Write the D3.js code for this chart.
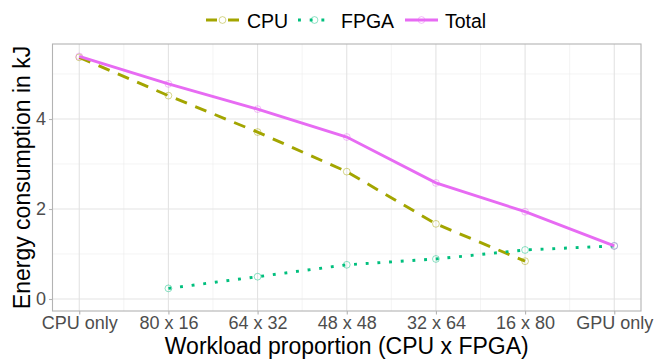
<!DOCTYPE html>
<html>
<head>
<meta charset="utf-8">
<script src="https://cdn.jsdelivr.net/npm/d3@7"></script>
<style>
  html, body { margin: 0; padding: 0; background: #ffffff; }
  svg { display: block; font-family: "Liberation Sans", Arial, sans-serif; }
</style>
</head>
<body>
<svg id="chart" width="654" height="359"></svg>
<script>
// ---- data ----
const categories = ["CPU only", "80 x 16", "64 x 32", "48 x 48", "32 x 64", "16 x 80", "GPU only"];
const cpuValues   = [5.37, 4.52, 3.71, 2.83, 1.67, 0.84, null];
const fpgaValues  = [null, 0.236, 0.496, 0.76, 0.89, 1.09, 1.18];
const totalValues = [5.39, 4.78, 4.22, 3.60, 2.58, 1.94, 1.18];
const yTicks = [0, 2, 4];
const yMinorTicks = [1, 3, 5];
const seriesNames = ["CPU", "FPGA", "Total"];

const colors = { CPU: "#A3A500", FPGA: "#00BF7D", Total: "#E76BF3" };
const dashes = { CPU: "12,9", FPGA: "2.9,8.8", Total: null };

const series = [
  { name: "CPU", values: cpuValues },
  { name: "FPGA", values: fpgaValues },
  { name: "Total", values: totalValues }
];

const svg = d3.select("#chart");
const panel = { left: 52.5, right: 641, top: 44, bottom: 311 };

const x = d3.scaleLinear().domain([-0.3, categories.length - 1 + 0.3]).range([panel.left, panel.right]);
const y = d3.scaleLinear().domain([-0.2667, 5.667]).range([panel.bottom, panel.top]);

// grid
const grid = svg.append("g");
const xMinor = d3.range(0, categories.length - 1).map(i => i + 0.5);
grid.selectAll(".ymin").data(yMinorTicks).join("line")
  .attr("x1", panel.left).attr("x2", panel.right)
  .attr("y1", d => y(d)).attr("y2", d => y(d))
  .attr("stroke", "#EDEDED").attr("stroke-width", 0.6);
grid.selectAll(".xmin").data(xMinor).join("line")
  .attr("y1", panel.top).attr("y2", panel.bottom)
  .attr("x1", d => x(d)).attr("x2", d => x(d))
  .attr("stroke", "#EDEDED").attr("stroke-width", 0.6);
grid.selectAll(".ymaj").data(yTicks).join("line")
  .attr("x1", panel.left).attr("x2", panel.right)
  .attr("y1", d => y(d)).attr("y2", d => y(d))
  .attr("stroke", "#E3E3E3").attr("stroke-width", 1.1);
grid.selectAll(".xmaj").data(categories.map((c, i) => i)).join("line")
  .attr("y1", panel.top).attr("y2", panel.bottom)
  .attr("x1", d => x(d)).attr("x2", d => x(d))
  .attr("stroke", "#E3E3E3").attr("stroke-width", 1.1);

// axes
const xAxis = d3.axisBottom(x)
  .tickValues(categories.map((c, i) => i))
  .tickFormat(i => categories[i])
  .tickSize(3.5).tickPadding(1.7);
const gx = svg.append("g").attr("transform", `translate(0,${panel.bottom})`).call(xAxis);
gx.select(".domain").remove();
gx.selectAll(".tick line").attr("stroke", "#B3B3B3").attr("stroke-width", 1.1);
gx.selectAll(".tick text").attr("fill", "#4D4D4D").attr("font-size", 18)
  .attr("font-family", "Liberation Sans, Arial, sans-serif");

const yAxis = d3.axisLeft(y).tickValues(yTicks).tickFormat(d3.format("d")).tickSize(3.5).tickPadding(3);
const gy = svg.append("g").attr("transform", `translate(${panel.left},0)`).call(yAxis);
gy.select(".domain").remove();
gy.selectAll(".tick line").attr("stroke", "#B3B3B3").attr("stroke-width", 1.1);
gy.selectAll(".tick text").attr("fill", "#4D4D4D").attr("font-size", 18)
  .attr("font-family", "Liberation Sans, Arial, sans-serif");

// lines
const line = d3.line()
  .defined(d => d.v !== null)
  .x(d => x(d.i)).y(d => y(d.v));

const marks = svg.append("g");
series.forEach(s => {
  const pts = s.values.map((v, i) => ({ i, v })).filter(d => d.v !== null);
  marks.selectAll(null).data(pts).join("circle")
    .attr("cx", d => x(d.i)).attr("cy", d => y(d.v)).attr("r", 3.4)
    .attr("fill", "none").attr("stroke", colors[s.name])
    .attr("stroke-opacity", 0.45).attr("stroke-width", 1);
});
series.forEach(s => {
  const pts = s.values.map((v, i) => ({ i, v })).filter(d => d.v !== null);
  marks.append("path").datum(pts)
    .attr("d", line)
    .attr("fill", "none")
    .attr("stroke", colors[s.name])
    .attr("stroke-width", 2.9)
    .attr("stroke-dasharray", dashes[s.name])
    .attr("stroke-linecap", "butt");
});

// panel border
svg.append("rect")
  .attr("x", panel.left).attr("y", panel.top)
  .attr("width", panel.right - panel.left).attr("height", panel.bottom - panel.top)
  .attr("fill", "none").attr("stroke", "#B3B3B3").attr("stroke-width", 1.1);

// axis titles
svg.append("text")
  .attr("x", (panel.left + panel.right) / 2).attr("y", 354)
  .attr("text-anchor", "middle").attr("font-size", 23).attr("fill", "#000")
  .text("Workload proportion (CPU x FPGA)");
svg.append("text")
  .attr("transform", `translate(30,${(panel.top + panel.bottom) / 2}) rotate(-90)`)
  .attr("text-anchor", "middle").attr("font-size", 23).attr("fill", "#000")
  .text("Energy consumption in kJ");

// legend
const legendItems = [
  { name: "CPU", kx: 206, tx: 247 },
  { name: "FPGA", kx: 298, tx: 341 },
  { name: "Total", kx: 405, tx: 445 }
];
const lg = svg.append("g");
legendItems.forEach(it => {
  const kw = 33, ky = 20;
  lg.append("line")
    .attr("x1", it.kx).attr("x2", it.kx + kw).attr("y1", ky).attr("y2", ky)
    .attr("stroke", colors[it.name]).attr("stroke-width", 2.9)
    .attr("stroke-dasharray", it.name === "CPU" ? "11,11" : dashes[it.name]);
  lg.append("circle")
    .attr("cx", it.kx + kw / 2).attr("cy", ky).attr("r", 3.4)
    .attr("fill", "none").attr("stroke", colors[it.name])
    .attr("stroke-opacity", 0.45).attr("stroke-width", 1);
  lg.append("text")
    .attr("x", it.tx).attr("y", 27.5)
    .attr("font-size", 19.5).attr("fill", "#000")
    .text(it.name);
});
</script>
</body>
</html>
